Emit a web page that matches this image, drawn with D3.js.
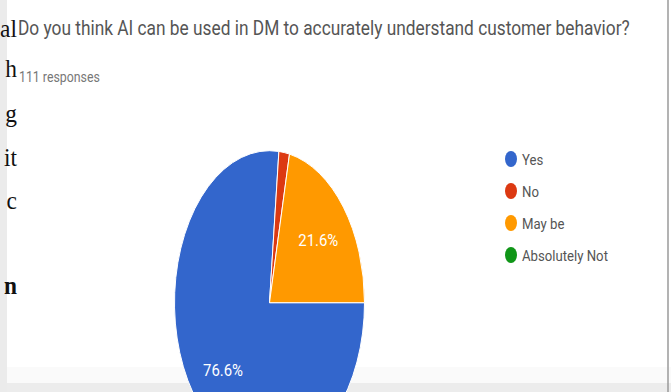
<!DOCTYPE html>
<html>
<head>
<meta charset="utf-8">
<script src="https://cdn.jsdelivr.net/npm/d3@7"></script>
<style>
  html, body { margin: 0; padding: 0; background: #fff; }
  svg { display: block; }
</style>
</head>
<body>
<svg id="chart" width="671" height="392"></svg>
<script>
// data
var categories = ["Yes", "No", "May be", "Absolutely Not"];
var counts = [85, 2, 24, 0];
var colors = ["#3366cc", "#dc3912", "#ff9900", "#109618"];
var title = "Do you think AI can be used in DM to accurately understand customer behavior?";
var subtitle = "111 responses";
// fragments of the document text behind the screenshot
var sideText = ["al", "h", "g", "it", "c", "n"];

var svg = d3.select("#chart"),
    width = +svg.attr("width"),
    height = +svg.attr("height");

// page background pieces
svg.append("rect").attr("x", 0).attr("y", 0).attr("width", width).attr("height", height).attr("fill", "#fff");
svg.append("rect").attr("x", 0).attr("y", 367).attr("width", width).attr("height", 16).attr("fill", "#fafafa");
svg.append("rect").attr("x", 0).attr("y", 383).attr("width", width).attr("height", 9).attr("fill", "#ececec");
svg.append("rect").attr("x", 0).attr("y", 0).attr("width", 7).attr("height", height).attr("fill", "#ebebeb");
svg.append("line").attr("x1", 668).attr("x2", 668).attr("y1", 0).attr("y2", height)
    .attr("stroke", "#9a9a9a").attr("stroke-width", 1.5);

// squeeze a text horizontally so it spans w px starting at x
function squeeze(sel, x, w) {
    var n = sel.node().getComputedTextLength();
    var k = w / n;
    sel.attr("x", x / k).attr("transform", "scale(" + k + ",1)");
}

// serif text on the left (a little narrow like the screenshot)
var sideY = [37, 77, 122, 166, 209, 294];
var sk = 0.9;
svg.selectAll(".side")
    .data(sideText)
    .enter().append("text")
    .attr("class", "side")
    .attr("transform", "scale(" + sk + ",1)")
    .attr("x", 17 / sk)
    .attr("y", function (d, i) { return sideY[i]; })
    .attr("text-anchor", "end")
    .style("font-family", "'Liberation Serif', 'Times New Roman', serif")
    .style("font-size", "26px")
    .style("font-weight", function (d, i) { return i === sideText.length - 1 ? "bold" : "normal"; })
    .attr("fill", "#111")
    .text(function (d) { return d; });

// title + responses
var titleText = svg.append("text")
    .attr("y", 35)
    .style("font-family", "Roboto, Arial, sans-serif")
    .style("font-size", "21px")
    .attr("fill", "#555")
    .text(title);
squeeze(titleText, 18, 612);

var subText = svg.append("text")
    .attr("y", 82)
    .style("font-family", "Roboto, Arial, sans-serif")
    .style("font-size", "14px")
    .attr("fill", "#777")
    .text(subtitle);
squeeze(subText, 19, 81);

// pie (squashed horizontally like the screenshot)
var cx = 269.5, cy = 302.7, R = 152, rx = 95;
var sx = rx / R;

var pie = d3.pie()
    .sort(null)
    .startAngle(Math.PI / 2)
    .endAngle(Math.PI / 2 + 2 * Math.PI)
    .value(function (d) { return d; });

var arcs = pie(counts);
var arc = d3.arc().innerRadius(0).outerRadius(R);
var labelArc = d3.arc().innerRadius(R * 0.66).outerRadius(R * 0.66);
var total = d3.sum(counts);

var g = svg.append("g")
    .attr("transform", "translate(" + cx + "," + cy + ") scale(" + sx + ",1)");

g.selectAll("path")
    .data(arcs.filter(function (d) { return d.value > 0; }))
    .enter().append("path")
    .attr("d", arc)
    .attr("fill", function (d) { return colors[d.index]; })
    .attr("stroke", "#fff")
    .attr("stroke-width", 1)
    .attr("vector-effect", "non-scaling-stroke");

// percentage labels (only for big slices)
svg.selectAll(".pct")
    .data(arcs.filter(function (d) { return d.value / total > 0.05; }))
    .enter().append("text")
    .attr("class", "pct")
    .attr("x", function (d) { return cx + labelArc.centroid(d)[0] * sx; })
    .attr("y", function (d) { return cy + labelArc.centroid(d)[1] + 6; })
    .attr("text-anchor", "middle")
    .attr("textLength", 40).attr("lengthAdjust", "spacingAndGlyphs")
    .style("font-family", "Roboto, Arial, sans-serif")
    .style("font-size", "16px")
    .attr("fill", "#fff")
    .text(function (d) { return d3.format(".1%")(d.value / total); });

// legend
var legendY = d3.scalePoint().domain(categories).range([159, 255]);

var legend = svg.selectAll(".legend")
    .data(categories)
    .enter().append("g")
    .attr("class", "legend")
    .attr("transform", function (d) { return "translate(511," + legendY(d) + ")"; });

legend.append("ellipse")
    .attr("rx", 6).attr("ry", 8)
    .attr("fill", function (d, i) { return colors[i]; });

legend.append("text")
    .attr("x", 11).attr("y", 5.5)
    .style("font-family", "Roboto, Arial, sans-serif")
    .style("font-size", "15px")
    .attr("fill", "#555")
    .text(function (d) { return d; });

// squeeze legend labels so the longest one spans ~86px
var longest = d3.max(legend.selectAll("text").nodes(), function (n) { return n.getComputedTextLength(); });
var k = 86 / longest;
legend.selectAll("text")
    .attr("x", 11 / k)
    .attr("transform", "scale(" + k + ",1)");
</script>
</body>
</html>
